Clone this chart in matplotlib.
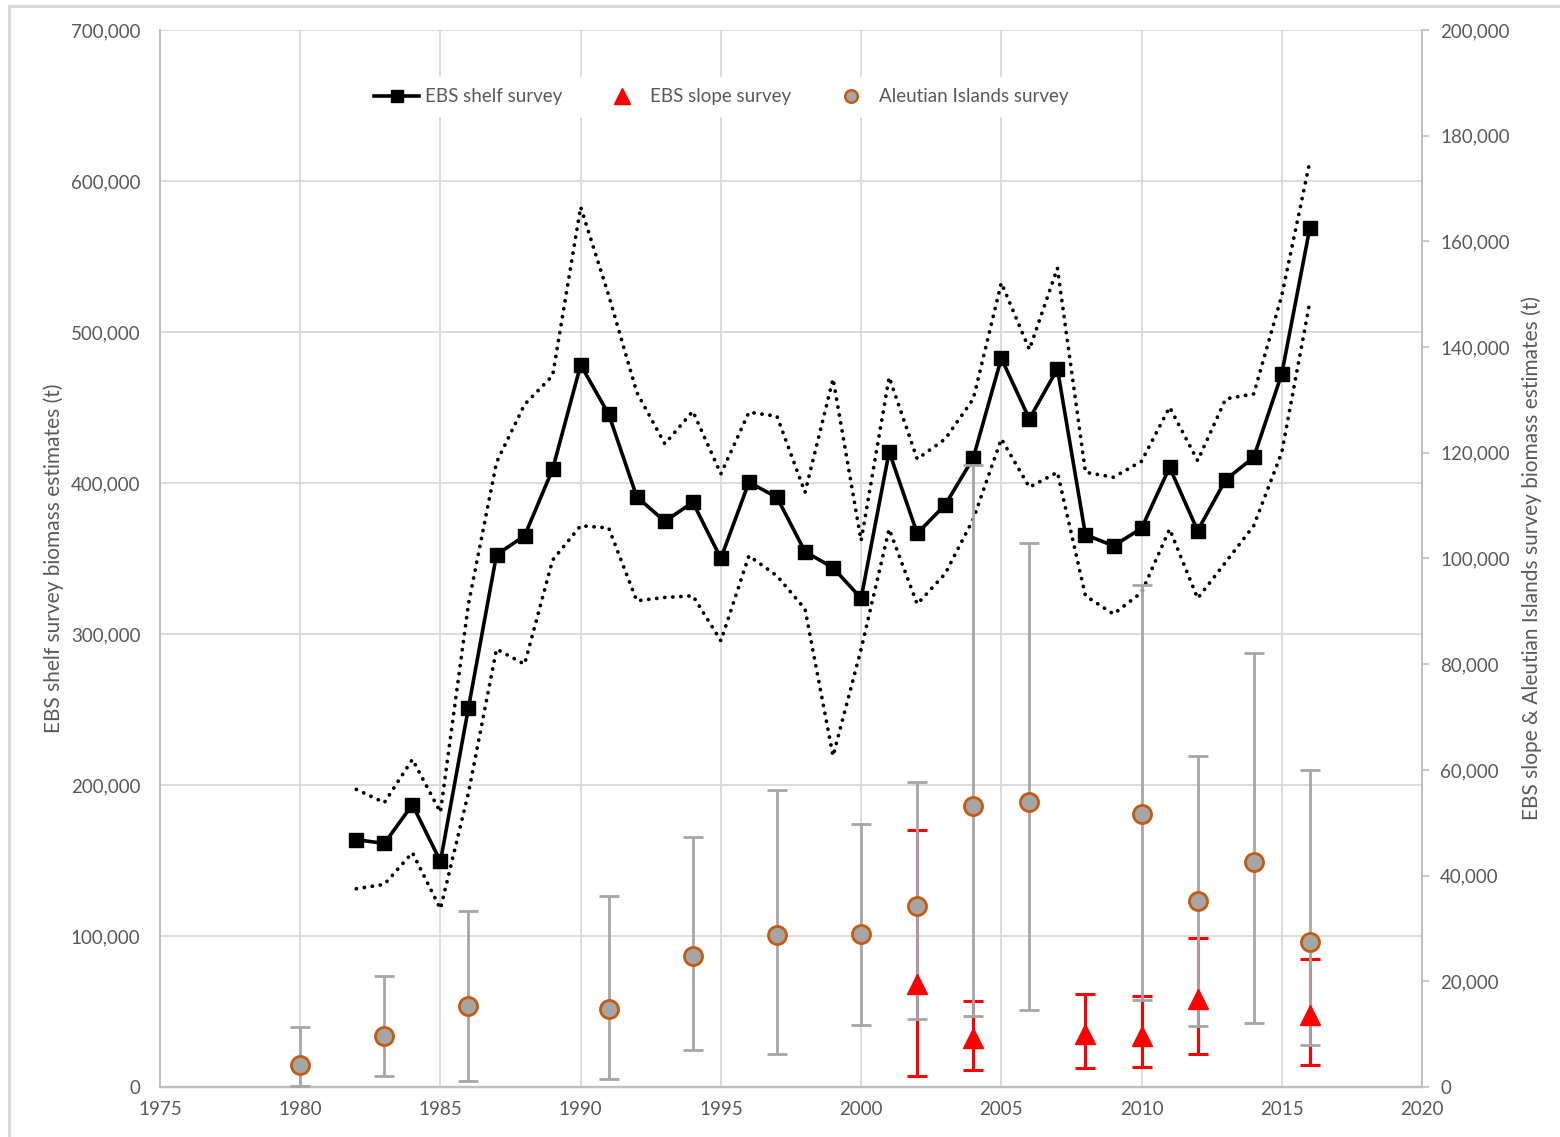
import matplotlib
matplotlib.use('Agg')
import matplotlib.pyplot as plt
import matplotlib.patches as mpatches
from matplotlib.ticker import FuncFormatter, MultipleLocator
import numpy as np

plt.rcParams['font.family'] = ['Lato', 'DejaVu Sans']

# ── EBS shelf survey (left axis) ─────────────────────────────────────────────
shelf_years = list(range(1982, 2017))
shelf_biomass = [163800, 161300, 187000, 149400, 251300, 352500, 365000, 409100,
                 478200, 445500, 390900, 374600, 387200, 350100, 400500, 390500,
                 354500, 343900, 323600, 420700, 366600, 385600, 416600, 482600,
                 442400, 475600, 365700, 358400, 370000, 410400, 368400, 402200,
                 417000, 472300, 568800]
shelf_upper = [197100, 188300, 217000, 182000, 320000, 413700, 452000, 471100,
               582800, 524200, 460100, 425900, 447500, 406000, 446900, 444200,
               393800, 469000, 361800, 470100, 415900, 429200, 455700, 532600,
               488400, 542300, 407100, 403800, 414400, 450200, 414800, 455700,
               459000, 524200, 612800]
shelf_lower = [131300, 134200, 155200, 118000, 195000, 290000, 280000, 349000,
               371700, 370200, 322000, 324200, 325300, 295500, 351800, 338500,
               316500, 219200, 290000, 369500, 319800, 340000, 376100, 429200,
               397200, 407100, 325300, 313200, 327500, 369500, 323600, 347600,
               371700, 420300, 519800]

# ── EBS slope survey (right axis) ────────────────────────────────────────────
slope_years = [2002, 2004, 2008, 2010, 2012, 2016]
slope_biomass = [19400, 9290, 10100, 9720, 16720, 13640]
slope_upper = [48630, 16210, 17610, 17160, 28200, 24230]
slope_lower = [2030, 3230, 3670, 3860, 6320, 4100]

# ── Aleutian Islands survey (right axis) ─────────────────────────────────────
ai_years = [1980, 1983, 1986, 1991, 1994, 1997, 2000, 2002, 2004, 2006, 2010,
            2012, 2014, 2016]
ai_biomass = [4100, 9600, 15400, 14770, 24720, 28700, 28960, 34310, 53090,
              53850, 51650, 35120, 42630, 27440]
ai_upper = [11370, 20940, 33360, 36070, 47300, 56250, 49760, 57630, 117700,
            102900, 95020, 62550, 82100, 60030]
ai_lower = [260, 2030, 1080, 1590, 6950, 6320, 11800, 12810, 13450, 14510,
            16400, 11480, 12180, 8020]

TXT = '#595959'
GRID = '#d9d9d9'
AXIS = '#bfbfbf'
DOTS = (0, (0.05, 2.1))

fig = plt.figure(figsize=(15.6, 11.37), dpi=100, facecolor='white')
ax = fig.add_axes([160 / 1560, 50 / 1137, 1262 / 1560, 1057 / 1137])
ax2 = ax.twinx()

# outer chart border
fig.patches.append(mpatches.Rectangle((9 / 1560, -0.01), 1.0, (1137 - 6) / 1137 + 0.01,
                                      transform=fig.transFigure, fill=False,
                                      edgecolor=GRID, lw=2.2, zorder=0))

# shelf survey with dotted confidence bounds
ax.plot(shelf_years, shelf_upper, color='black', lw=2.7, linestyle=DOTS,
        dash_capstyle='round', zorder=3)
ax.plot(shelf_years, shelf_lower, color='black', lw=2.7, linestyle=DOTS,
        dash_capstyle='round', zorder=3)
ax.plot(shelf_years, shelf_biomass, color='black', lw=2.6, marker='s',
        markersize=10, zorder=4)

# slope survey: red error bars under the grey AI bars
s_b = np.array(slope_biomass)
s_err = [s_b - np.array(slope_lower), np.array(slope_upper) - s_b]
ax2.errorbar(slope_years, slope_biomass, yerr=s_err, fmt='none', ecolor='#ff0000',
             elinewidth=2.2, capsize=7, capthick=2.2, zorder=2)

a_b = np.array(ai_biomass)
a_err = [a_b - np.array(ai_lower), np.array(ai_upper) - a_b]
ax2.errorbar(ai_years, ai_biomass, yerr=a_err, fmt='none', ecolor='#a6a6a6',
             elinewidth=2.0, capsize=7, capthick=2.0, zorder=3)

ax2.plot(slope_years, slope_biomass, linestyle='none', marker='^', markersize=14,
         color='#ff0000', zorder=4)
ax2.plot(ai_years, ai_biomass, linestyle='none', marker='o', markersize=13,
         markerfacecolor='#a5a5a5', markeredgecolor='#c55a11',
         markeredgewidth=2.0, zorder=5)

# axes
ax.set_xlim(1975, 2020)
ax.set_ylim(0, 700000)
ax2.set_ylim(0, 200000)
ax.xaxis.set_major_locator(MultipleLocator(5))
ax.yaxis.set_major_locator(MultipleLocator(100000))
ax2.yaxis.set_major_locator(MultipleLocator(20000))

fmt = FuncFormatter(lambda v, p: f'{int(v):,}')
ax.yaxis.set_major_formatter(fmt)
ax2.yaxis.set_major_formatter(fmt)

ax.grid(True, color=GRID, lw=1.3)
ax.set_axisbelow(True)

for a in (ax, ax2):
    a.spines['top'].set_visible(False)
    a.spines['left'].set_color(AXIS)
    a.spines['right'].set_color(AXIS)
    a.spines['bottom'].set_color(AXIS)
    a.spines['left'].set_linewidth(1.3)
    a.spines['right'].set_linewidth(1.3)
    a.spines['bottom'].set_linewidth(1.6)

ax.tick_params(axis='y', length=0, pad=14, labelsize=13.5, labelcolor=TXT)
ax.tick_params(axis='x', length=0, pad=10, labelsize=13.5, labelcolor=TXT)
ax2.tick_params(axis='y', length=5, width=1.2, color=AXIS, pad=8, labelsize=13.5,
                labelcolor=TXT)

ax.set_ylabel('EBS shelf survey biomass estimates (t)', fontsize=15, color=TXT)
ax2.set_ylabel('EBS slope & Aleutian Islands survey biomass estimates (t)',
               fontsize=15, color=TXT)
ax.yaxis.set_label_coords(-(160 - 64) / 1262, 0.5)
ax2.yaxis.set_label_coords((1521 - 160) / 1262, 0.5)

# legend
handles = [
    plt.Line2D([0], [0], color='black', lw=2.6, marker='s', markersize=9),
    plt.Line2D([0], [0], color='#ff0000', linestyle='none', marker='^', markersize=11),
    plt.Line2D([0], [0], linestyle='none', marker='o', markersize=9,
               markerfacecolor='#a5a5a5', markeredgecolor='#c55a11',
               markeredgewidth=1.8),
]
labels = ['EBS shelf survey', 'EBS slope survey', 'Aleutian Islands survey']
leg = ax2.legend(handles, labels, loc='center', bbox_to_anchor=(0.445, 0.937),
                 ncol=3, frameon=True, facecolor='white', edgecolor='white',
                 framealpha=1, fontsize=13.5, handlelength=2.4, handletextpad=0.3,
                 columnspacing=2.0, borderpad=0.6)
for t in leg.get_texts():
    t.set_color(TXT)
leg.set_zorder(10)

plt.savefig('out.png', dpi=100, facecolor='white')
plt.close()
